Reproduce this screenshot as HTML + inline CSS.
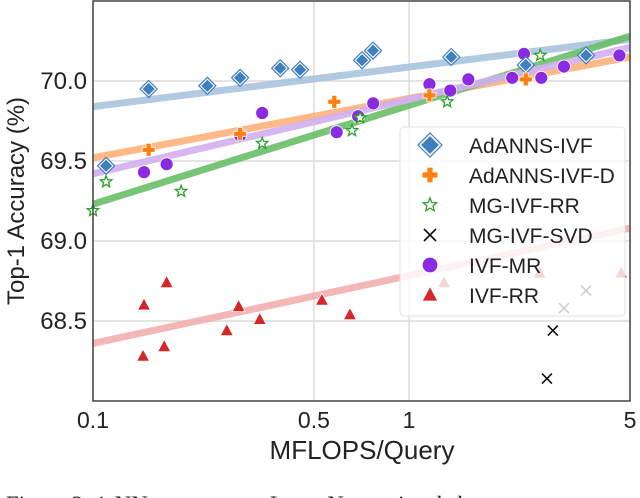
<!DOCTYPE html>
<html><head><meta charset="utf-8"><style>
html,body{margin:0;padding:0;background:#fff;}
svg{display:block;}
text{font-family:"Liberation Sans",sans-serif;}
</style></head><body>
<svg id="chart" width="640" height="498" viewBox="0 0 640 498" xmlns="http://www.w3.org/2000/svg">
<g id="grid"></g>
<g id="fits"></g>
<g id="marks"></g>
<rect x="93" y="1" width="537" height="400" fill="none" stroke="#444" stroke-width="1.5"/>
<g id="ticks"></g>
<text x="362" y="459" font-size="26" text-anchor="middle" fill="#222">MFLOPS/Query</text>
<text x="24" y="201" font-size="24" text-anchor="middle" fill="#222" transform="rotate(-90 24 201)">Top-1 Accuracy (%)</text>
<g id="legend"></g>
<text x="6" y="512" font-size="23" fill="#222" style="font-family:'Liberation Serif',serif">Figure 2: 1-NN accuracy on ImageNet retrieval shows</text>
</svg>
<script>
const xTicks=[0.1,0.5,1,5];
const xTickLabels=["0.1","0.5","1","5"];
const yTicks=[68.5,69.0,69.5,70.0];
const yTickLabels=["68.5","69.0","69.5","70.0"];
const seriesNames=["AdANNS-IVF","AdANNS-IVF-D","MG-IVF-RR","MG-IVF-SVD","IVF-MR","IVF-RR"];
const colors=["#3f7fbf","#ff7f0e","#2ca02c","#111111","#8a2be2","#d62728"];
const adannsX=[0.11,0.150,0.230,0.292,0.391,0.452,0.710,0.769,1.36,2.34,3.63];
const adannsY=[69.47,69.95,69.97,70.02,70.08,70.07,70.13,70.19,70.15,70.10,70.16];
const adannsDX=[0.150,0.292,0.58,1.16,2.34];
const adannsDY=[69.57,69.67,69.87,69.91,70.01];
const mgRRX=[0.10,0.11,0.19,0.343,0.66,0.70,1.32,2.60];
const mgRRY=[69.19,69.37,69.31,69.61,69.69,69.77,69.87,70.16];
const mgSVDX=[2.85,2.73,3.09,3.63];
const mgSVDY=[68.44,68.14,68.58,68.69];
const ivfMRX=[0.145,0.171,0.292,0.343,0.59,0.69,0.77,1.16,1.35,1.54,2.12,2.31,2.62,3.09,4.63];
const ivfMRY=[69.43,69.48,69.66,69.80,69.68,69.78,69.86,69.98,69.94,70.01,70.02,70.17,70.02,70.09,70.16];
const ivfRRX=[0.144,0.145,0.168,0.171,0.265,0.289,0.337,0.53,0.65,1.29,2.59,4.69];
const ivfRRY=[68.28,68.60,68.34,68.74,68.44,68.59,68.51,68.63,68.54,68.74,68.80,68.80];
const fitStartY=[69.84,69.52,69.23,null,69.42,68.36];
const fitEndY=[70.26,70.15,70.28,null,70.21,69.08];
const fitColors=["#a9c4de","#ffb27a","#6abf6a",null,"#d2b0f0","#f2b0b0"];

const NS="http://www.w3.org/2000/svg";
const X0=93,X1=630,Y0=401,Y1=1,XMIN=0.1,XMAX=5,YMIN=68.0,YMAX=70.5;
function sx(v){return X0+(Math.log10(v)-Math.log10(XMIN))/(Math.log10(XMAX)-Math.log10(XMIN))*(X1-X0);}
function sy(v){return Y0-(v-YMIN)/(YMAX-YMIN)*(Y0-Y1);}
function mk(tag,attrs,parent){const e=document.createElementNS(NS,tag);for(const k in attrs)e.setAttribute(k,attrs[k]);parent.appendChild(e);return e;}
const grid=document.getElementById('grid'),ticks=document.getElementById('ticks');
xTicks.forEach((t,i)=>{
  const l=mk('line',{x1:sx(t),x2:sx(t),y1:Y1,y2:Y0,stroke:'#dcdcdc','stroke-width':1.5},grid);
  
  
  const tx=mk('text',{x:sx(t),y:428,'font-size':23,'text-anchor':'middle',fill:'#222'},ticks);
  tx.textContent=xTickLabels[i];
  
  
});
yTicks.forEach((t,i)=>{
  const l=mk('line',{x1:X0,x2:X1,y1:sy(t),y2:sy(t),stroke:'#dcdcdc','stroke-width':1.5},grid);
  
  
  const tx=mk('text',{x:87,y:sy(t)+8,'font-size':24,'text-anchor':'end',fill:'#222'},ticks);
  tx.textContent=yTickLabels[i];
  
  
});
const fits=document.getElementById('fits');
fitStartY.forEach((s,i)=>{
  if(s===null)return;
  const l=mk('line',{x1:sx(XMIN),x2:sx(XMAX),y1:sy(s),y2:sy(fitEndY[i]),stroke:fitColors[i],'stroke-width':7,opacity:0.9},fits);
  
  
});
function marker(type,cx,cy,c,p,size){
  let e;
  const s=size||1;
  if(type===0){e=mk('polygon',{points:`${cx},${cy-8*s} ${cx+8*s},${cy} ${cx},${cy+8*s} ${cx-8*s},${cy}`,fill:c,stroke:'#fff','stroke-width':1},p);mk('polygon',{points:`${cx},${cy-10*s} ${cx+10*s},${cy} ${cx},${cy+10*s} ${cx-10*s},${cy}`,fill:'none',stroke:c,'stroke-width':1.2},p);}
  else if(type===1){const a=2.5*s,b=6.5*s;e=mk('polygon',{points:`${cx-a},${cy-b} ${cx+a},${cy-b} ${cx+a},${cy-a} ${cx+b},${cy-a} ${cx+b},${cy+a} ${cx+a},${cy+a} ${cx+a},${cy+b} ${cx-a},${cy+b} ${cx-a},${cy+a} ${cx-b},${cy+a} ${cx-b},${cy-a} ${cx-a},${cy-a}`,fill:c,stroke:'#fff','stroke-width':0.8},p);}
  else if(type===2){let pts=[];for(let k=0;k<10;k++){const r=(k%2?2.6:6)*s,an=-Math.PI/2+k*Math.PI/5;pts.push((cx+r*Math.cos(an)).toFixed(1)+','+(cy+r*Math.sin(an)).toFixed(1));}e=mk('polygon',{points:pts.join(' '),fill:'#fff',stroke:c,'stroke-width':1.3},p);}
  else if(type===3){const d=5*s;e=mk('path',{d:`M${cx-d},${cy-d}L${cx+d},${cy+d}M${cx+d},${cy-d}L${cx-d},${cy+d}`,stroke:c,'stroke-width':1.6,fill:'none'},p);}
  else if(type===4){e=mk('circle',{cx:cx,cy:cy,r:6.5*s,fill:c,stroke:'#fff','stroke-width':0.8},p);}
  else {e=mk('polygon',{points:`${cx},${cy-7*s} ${cx+6.5*s},${cy+5*s} ${cx-6.5*s},${cy+5*s}`,fill:c,stroke:'#fff','stroke-width':0.8},p);}
  return e;
}
const marks=document.getElementById('marks');
const allX=[adannsX,adannsDX,mgRRX,mgSVDX,ivfMRX,ivfRRX],allY=[adannsY,adannsDY,mgRRY,mgSVDY,ivfMRY,ivfRRY];
const order=[5,3,4,0,1,2];
order.forEach(si=>{
  allX[si].forEach((xv,j)=>{
    const g=mk('g',{},marks);
    
    
    marker(si,sx(xv),sy(allY[si][j]),colors[si],g,si===0?0.85:1);
  });
});
const lg=document.getElementById('legend');
const box=mk('rect',{x:400,y:127,width:225,height:189,rx:4,fill:'#fff','fill-opacity':0.8,stroke:'#e2e2e2','stroke-width':1},lg);


seriesNames.forEach((n,i)=>{
  const y=145+i*30;
  const g=mk('g',{},lg);
  
  
  marker(i,430,y,colors[i],g,1.2);
  const t=mk('text',{x:469,y:y+8,'font-size':21,fill:'#222'},g);
  t.textContent=n;
});
</script>
</body></html>
